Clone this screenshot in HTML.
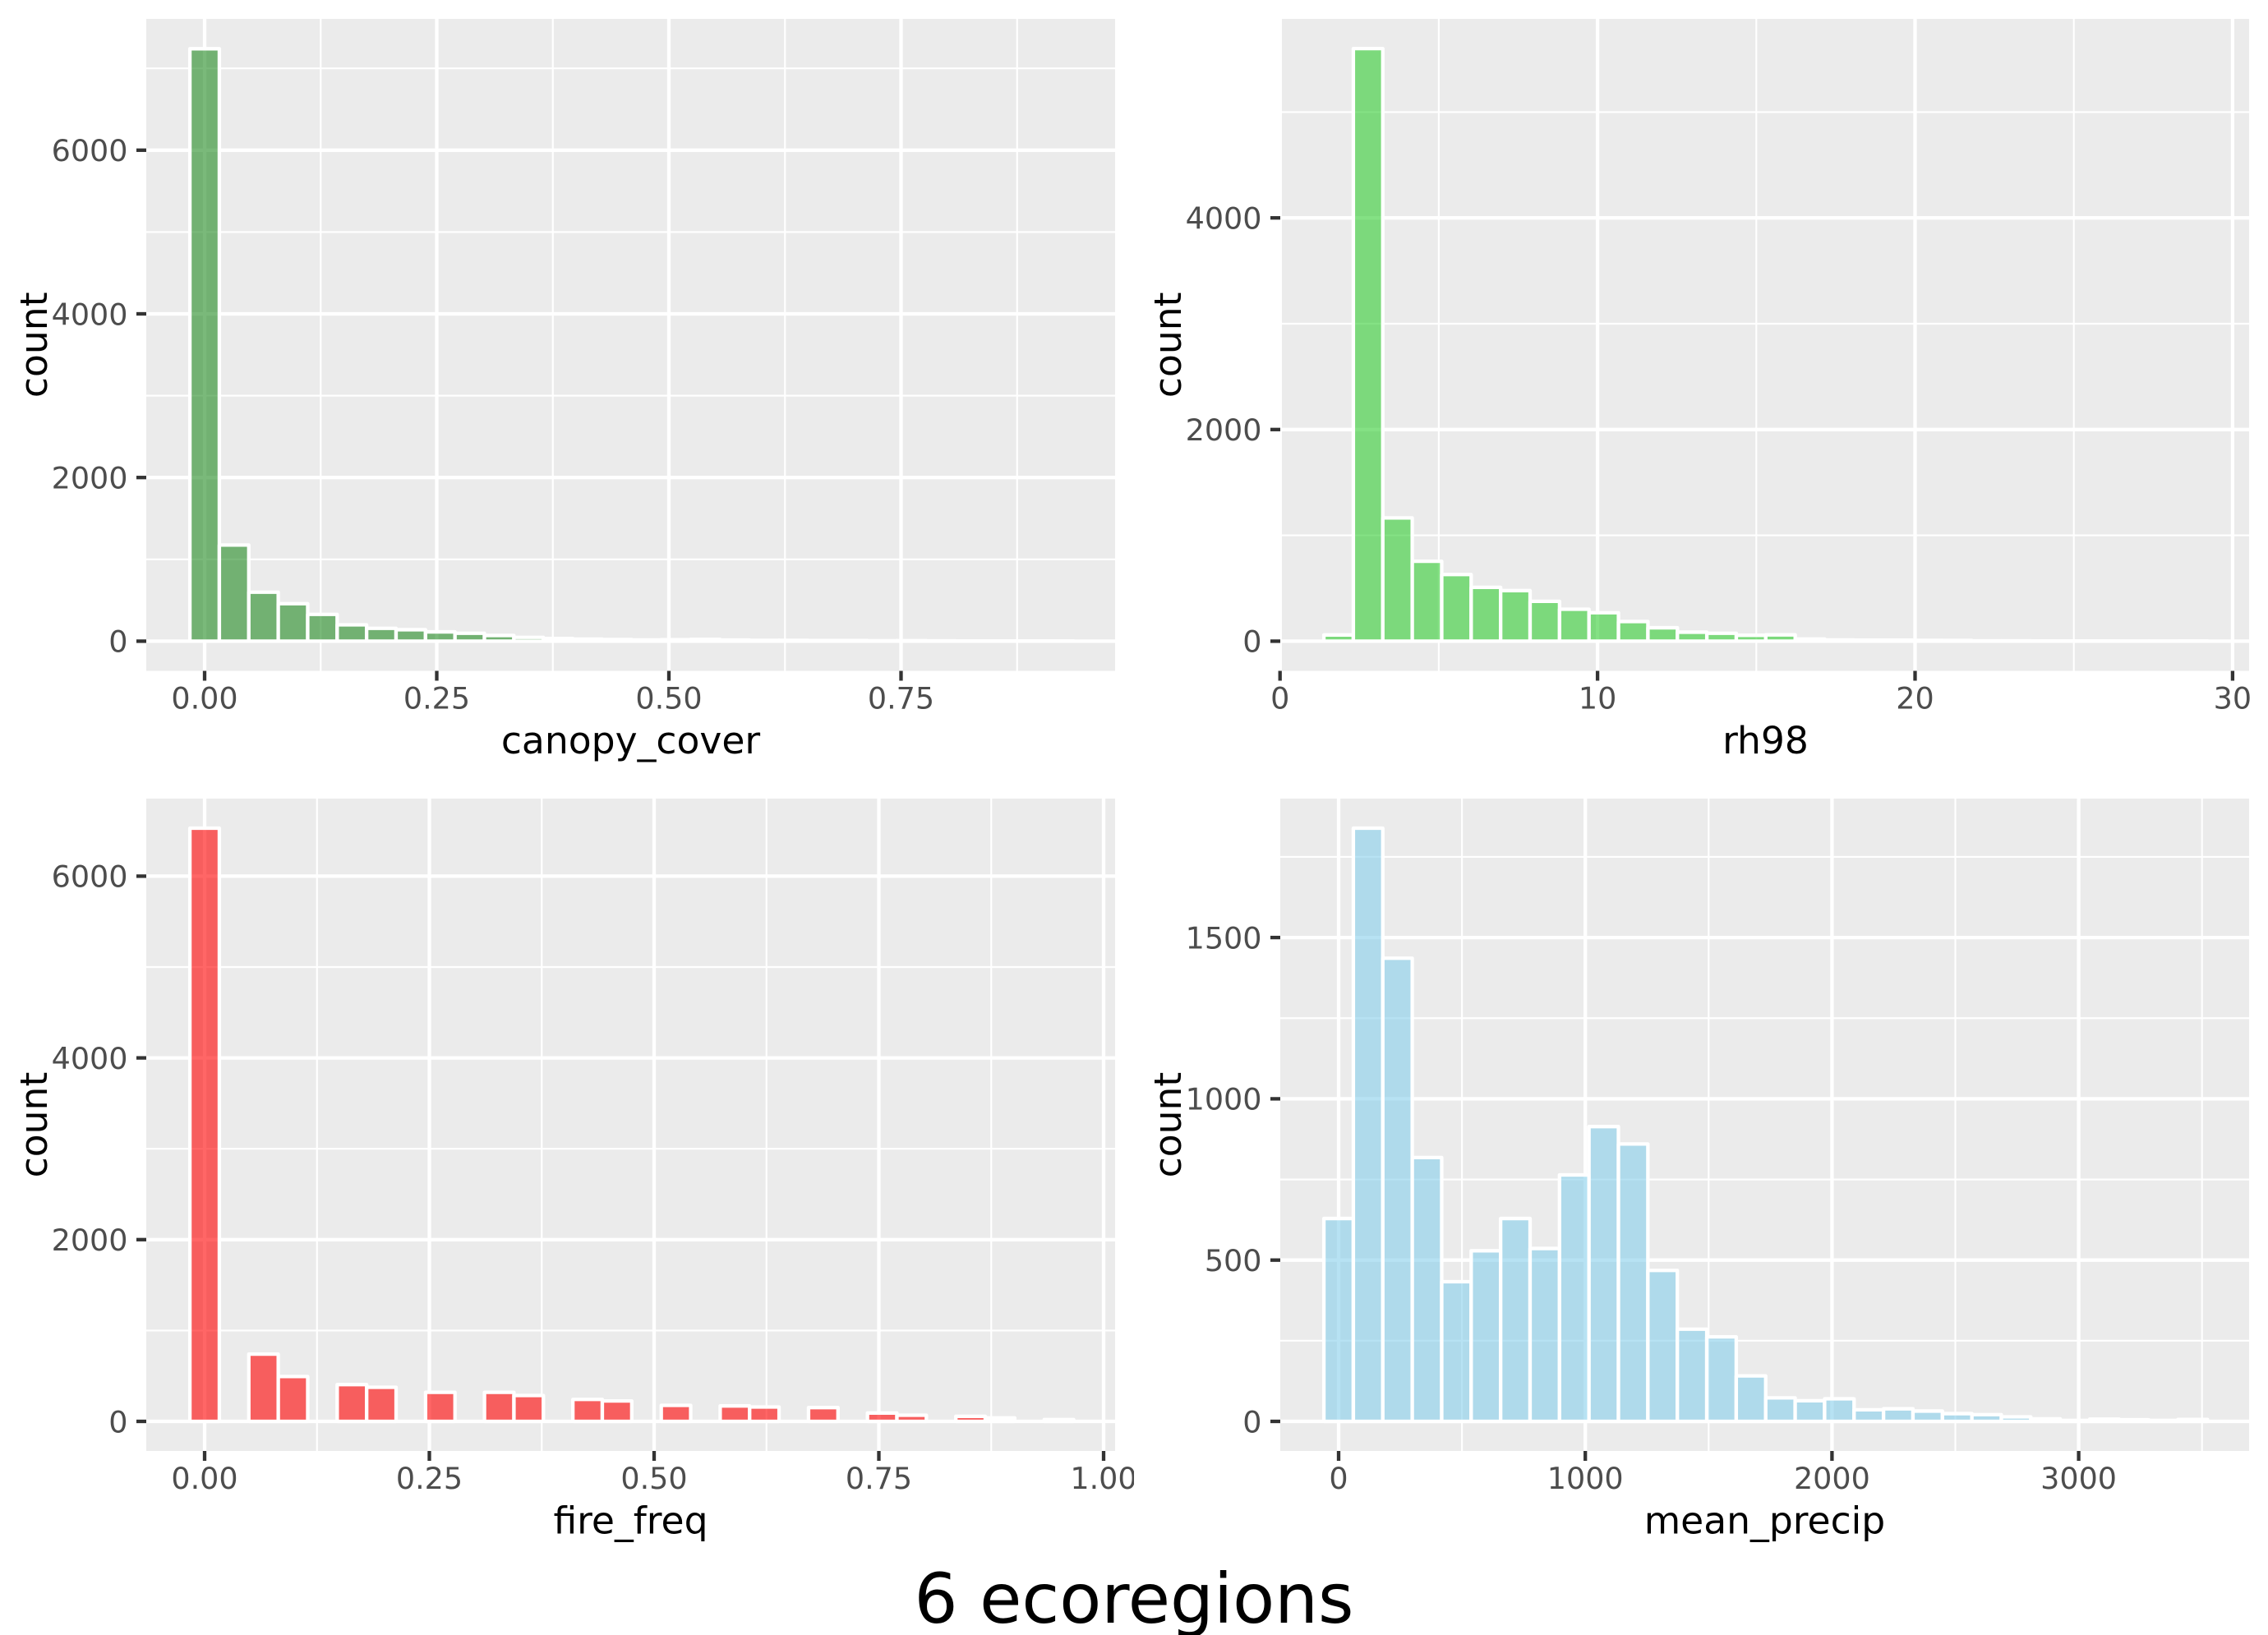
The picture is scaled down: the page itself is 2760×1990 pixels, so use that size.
<!DOCTYPE html>
<html>
<head>
<meta charset="utf-8">
<title>6 ecoregions</title>
<style>
html,body{margin:0;padding:0;background:#fff;width:2760px;height:1990px;overflow:hidden}
svg{display:block}
text{font-family:"DejaVu Sans","Liberation Sans",sans-serif}
</style>
</head>
<body>
<svg id="chart" xmlns="http://www.w3.org/2000/svg" width="2760" height="1990" viewBox="0 0 2760 1990">
  <rect x="0" y="0" width="2760" height="1990" fill="#ffffff"/>
  <defs>
    <clipPath id="figure-left"><rect x="0" y="0" width="1380" height="1990"/></clipPath>
  </defs>
  <g id="panel-canopy"></g>
  <g id="panel-rh98"></g>
  <g id="panel-fire" clip-path="url(#figure-left)"></g>
  <g id="panel-precip"></g>
  <text x="1380" y="1975" font-size="83.4" text-anchor="middle" fill="#000000">6 ecoregions</text>
</svg>
<script>
// ---- data ----
const canopyCounts = [7240,1175,599,458,328,200,157,140,114,97,70,47,33,25,20,15,18,22,14,10,10,8,7,5,6,4,3,3,2,3];
const rh98Counts   = [59,5600,1165,755,630,509,478,377,302,269,186,127,85,75,56,60,20,12,10,10,8,7,3,3,2,2,2,1,1,2];
const fireCounts   = [6528,0,740,494,0,405,375,0,320,0,320,285,0,242,225,0,176,0,170,158,0,152,0,92,68,0,56,38,0,20];
const precipCounts = [629,1839,1436,818,433,529,629,536,764,914,860,468,286,262,141,73,64,70,36,39,32,24,21,14,8,3,7,5,3,6];

const canopyBins = [0, 0.03172];
const rh98Bins   = [1.845, 0.9278];
const fireBins   = [0, 0.03277];
const precipBins = [0, 119.4];

const canopyXMajor = [0, 0.25, 0.5, 0.75];
const canopyXMinor = [0.125, 0.375, 0.625, 0.875];
const canopyXLabels = ['0.00','0.25','0.50','0.75'];
const canopyYMajor = [0, 2000, 4000, 6000];
const canopyYMinor = [1000, 3000, 5000, 7000];
const canopyYLabels = ['0','2000','4000','6000'];

const rh98XMajor = [0, 10, 20, 30];
const rh98XMinor = [5, 15, 25];
const rh98XLabels = ['0','10','20','30'];
const rh98YMajor = [0, 2000, 4000];
const rh98YMinor = [1000, 3000, 5000];
const rh98YLabels = ['0','2000','4000'];

const fireXMajor = [0, 0.25, 0.5, 0.75, 1];
const fireXMinor = [0.125, 0.375, 0.625, 0.875];
const fireXLabels = ['0.00','0.25','0.50','0.75','1.00'];
const fireYMajor = [0, 2000, 4000, 6000];
const fireYMinor = [1000, 3000, 5000];
const fireYLabels = ['0','2000','4000','6000'];

const precipXMajor = [0, 1000, 2000, 3000];
const precipXMinor = [500, 1500, 2500, 3500];
const precipXLabels = ['0','1000','2000','3000'];
const precipYMajor = [0, 500, 1000, 1500];
const precipYMinor = [250, 750, 1250, 1750];
const precipYLabels = ['0','500','1000','1500'];

const SVGNS = 'http://www.w3.org/2000/svg';

function make(tag, parent, attrs) {
  const el = document.createElementNS(SVGNS, tag);
  for (const k in attrs) el.setAttribute(k, attrs[k]);
  parent.appendChild(el);
  return el;
}

// Build one ggplot-style panel. `box` = pixel rectangle, `xa`/`ya` = [value, pixel, pixels-per-unit].
function drawPanel(cfg) {
  const g = document.getElementById(cfg.id);
  const b = cfg.box;
  const xScale = v => cfg.xa[1] + (v - cfg.xa[0]) * cfg.xa[2];
  const yScale = v => cfg.ya[1] - (v - cfg.ya[0]) * cfg.ya[2];

  const bg = make('rect', g, {x:b.l, y:b.t, width:b.r-b.l, height:b.b-b.t, fill:'#EBEBEB'});
  
  

  const clipId = cfg.id + '-clip';
  const cp = make('clipPath', g, {id:clipId});
  make('rect', cp, {x:b.l, y:b.t, width:b.r-b.l, height:b.b-b.t});
  const inner = make('g', g, {'clip-path':'url(#'+clipId+')'});

  cfg.yMinor.forEach(v => {
    const l = make('line', inner, {x1:b.l, x2:b.r, y1:yScale(v), y2:yScale(v), stroke:'#fff', 'stroke-width':2.15});
    
    
  });
  cfg.xMinor.forEach(v => {
    const l = make('line', inner, {x1:xScale(v), x2:xScale(v), y1:b.t, y2:b.b, stroke:'#fff', 'stroke-width':2.15});
    
    
  });
  cfg.yMajor.forEach(v => {
    const l = make('line', inner, {x1:b.l, x2:b.r, y1:yScale(v), y2:yScale(v), stroke:'#fff', 'stroke-width':4.3});
    
    
  });
  cfg.xMajor.forEach(v => {
    const l = make('line', inner, {x1:xScale(v), x2:xScale(v), y1:b.t, y2:b.b, stroke:'#fff', 'stroke-width':4.3});
    
    
  });

  cfg.counts.forEach((c, i) => {
    const center = cfg.bins[0] + i * cfg.bins[1];
    const x0 = xScale(center - cfg.bins[1] / 2);
    const x1 = xScale(center + cfg.bins[1] / 2);
    const y1 = yScale(c);
    const y0 = yScale(0);
    const r = make('rect', inner, {x:x0, y:y1, width:x1-x0, height:y0-y1, fill:cfg.fill, 'fill-opacity':0.6, stroke:'#fff', 'stroke-width':4.3, 'stroke-linejoin':'round'});
    
    
  });

  cfg.yMajor.forEach((v, i) => {
    const t = make('line', g, {x1:cfg.yTickEnd-12, x2:cfg.yTickEnd, y1:yScale(v), y2:yScale(v), stroke:'#333333', 'stroke-width':4.3});
    
    
    const lab = make('text', g, {x:cfg.yTickEnd-22.5, y:yScale(v)+13.3, 'font-size':36.5, 'text-anchor':'end', fill:'#4D4D4D'});
    
    
    lab.textContent = cfg.yLabels[i];
  });
  cfg.xMajor.forEach((v, i) => {
    const t = make('line', g, {x1:xScale(v), x2:xScale(v), y1:b.b, y2:b.b+12, stroke:'#333333', 'stroke-width':4.3});
    
    
    const lab = make('text', g, {x:xScale(v), y:b.b+46, 'font-size':36.5, 'text-anchor':'middle', fill:'#4D4D4D'});
    
    
    lab.textContent = cfg.xLabels[i];
  });

  const xt = make('text', g, {x:(b.l+b.r)/2, y:b.b+100.5, 'font-size':45.6, 'text-anchor':'middle', fill:'#000'});
  
  
  xt.textContent = cfg.xTitle;

  const yx = cfg.yTitleX, yy = (b.t + b.b) / 2;
  const yt = make('text', g, {x:yx, y:yy, 'font-size':45.6, 'text-anchor':'middle', fill:'#000', transform:'rotate(-90 '+yx+' '+yy+')'});
  
  
  yt.textContent = 'count';
}

drawPanel({
  id:'panel-canopy', box:{l:178,r:1357,t:23,b:816.5}, xa:[0,249,1130], ya:[0,780.4,0.0996],
  bins:canopyBins, counts:canopyCounts, fill:'rgb(34,139,34)',
  xMajor:canopyXMajor, xMinor:canopyXMinor, xLabels:canopyXLabels,
  yMajor:canopyYMajor, yMinor:canopyYMinor, yLabels:canopyYLabels,
  yTickEnd:178, yTitleX:57, xTitle:'canopy_cover'
});
drawPanel({
  id:'panel-rh98', box:{l:1560,r:2737,t:23,b:816.5}, xa:[0,1557.7,38.64], ya:[0,780.4,0.1288],
  bins:rh98Bins, counts:rh98Counts, fill:'rgb(50,205,50)',
  xMajor:rh98XMajor, xMinor:rh98XMinor, xLabels:rh98XLabels,
  yMajor:rh98YMajor, yMinor:rh98YMinor, yLabels:rh98YLabels,
  yTickEnd:1558, yTitleX:1437, xTitle:'rh98'
});
drawPanel({
  id:'panel-fire', box:{l:178,r:1357,t:972,b:1766}, xa:[0,249,1094], ya:[0,1730,0.1106],
  bins:fireBins, counts:fireCounts, fill:'rgb(255,0,0)',
  xMajor:fireXMajor, xMinor:fireXMinor, xLabels:fireXLabels,
  yMajor:fireYMajor, yMinor:fireYMinor, yLabels:fireYLabels,
  yTickEnd:178, yTitleX:57, xTitle:'fire_freq'
});
drawPanel({
  id:'panel-precip', box:{l:1558,r:2737,t:972,b:1766}, xa:[0,1629,0.3002], ya:[0,1730,0.3926],
  bins:precipBins, counts:precipCounts, fill:'rgb(135,206,235)',
  xMajor:precipXMajor, xMinor:precipXMinor, xLabels:precipXLabels,
  yMajor:precipYMajor, yMinor:precipYMinor, yLabels:precipYLabels,
  yTickEnd:1558, yTitleX:1437, xTitle:'mean_precip'
});
</script>
</body>
</html>
